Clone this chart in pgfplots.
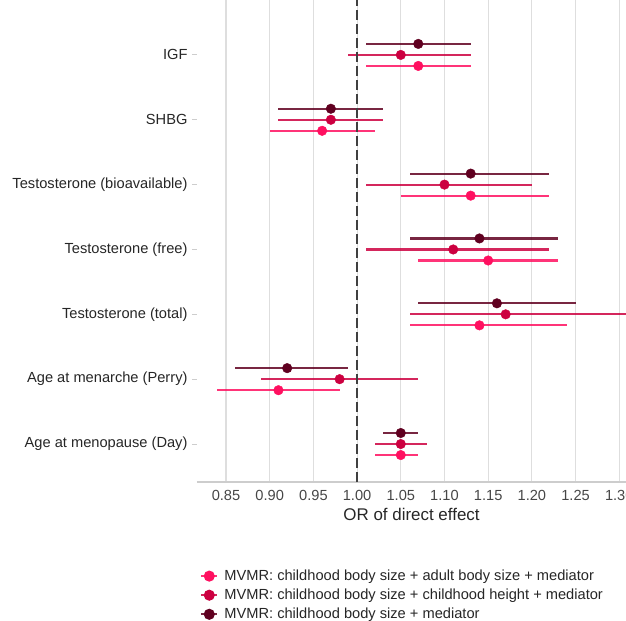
\documentclass[border=0pt]{standalone}
\usepackage{pgfplots}
\pgfplotsset{compat=1.18}
\usepackage{pgfplotstable}
\usepackage{fontspec}
\setmainfont{Liberation Sans}
\definecolor{cLight}{RGB}{255,16,96}
\definecolor{cMid}{RGB}{204,0,64}
\definecolor{cDark}{RGB}{96,0,32}
\definecolor{gridc}{RGB}{222,222,222}
\definecolor{axc}{RGB}{205,205,205}
\definecolor{txt}{RGB}{70,70,70}
\pgfplotstableread{
y or lo hi
6.83 1.07 1.01 1.13
5.83 0.96 0.90 1.02
4.83 1.13 1.05 1.22
3.83 1.15 1.07 1.23
2.83 1.14 1.06 1.24
1.83 0.91 0.84 0.98
0.83 1.05 1.02 1.07
}\light
\pgfplotstableread{
y or lo hi
7 1.05 0.99 1.13
6 0.97 0.91 1.03
5 1.10 1.01 1.20
4 1.11 1.01 1.22
3 1.17 1.06 1.35
2 0.98 0.89 1.07
1 1.05 1.02 1.08
}\mid
\pgfplotstableread{
y or lo hi
7.17 1.07 1.01 1.13
6.17 0.97 0.91 1.03
5.17 1.13 1.06 1.22
4.17 1.14 1.06 1.23
3.17 1.16 1.07 1.25
2.17 0.92 0.86 0.99
1.17 1.05 1.03 1.07
}\dark
\pgfplotsset{
  fp/.style={only marks, mark=*, mark size=4.8bp, color=#1, line width=2.2bp,
    mark options={line width=0.4bp},
    error bars/.cd, x dir=both, x explicit, error mark=none,
    error bar style={line width=2.2bp, #1, opacity=0.85},
    /pgfplots/legend image code/.code={\draw[#1, line width=2.2bp, opacity=0.85] (-1bp,0bp) -- (15bp,0bp); \fill[#1] (7bp,0bp) circle (4.4bp);}},
}
\begin{document}
\begin{tikzpicture}
\begin{axis}[
  name=ax,
  scale only axis,
  width=429bp, height=482bp,
  xmin=0.8168, xmax=1.3077,
  ymin=0.4145, ymax=7.847,
  axis x line*=bottom, axis y line*=left,
  x axis line style={-, draw=axc, line width=1.1bp},
  y axis line style={draw=none},
  xtick={0.85,0.90,0.95,1.00,1.05,1.10,1.15,1.20,1.25,1.30},
  xticklabels={0.85,0.90,0.95,1.00,1.05,1.10,1.15,1.20,1.25,1.30},
  ytick={1,2,3,4,5,6,7},
  yticklabels={Age at menopause (Day),Age at menarche (Perry),Testosterone (total),Testosterone (free),Testosterone (bioavailable),SHBG,IGF},
  x tick style={draw=none},
  y tick style={draw=axc, line width=1bp},
  tick align=outside,
  major tick length=5bp,
  xmajorgrids=true,
  grid style={draw=gridc, line width=1.1bp},
  tick label style={font=\fontsize{14.7}{17}\selectfont, text=txt},
  yticklabel style={text=black!85, xshift=-1bp},
  xlabel={OR of direct effect},
  xlabel style={font=\fontsize{17}{20}\selectfont, text=black!85},
  legend style={at={(0,-0.174)}, anchor=north west, draw=none, fill=none,
    font=\fontsize{14.7}{17}\selectfont, text=black!85, row sep=3bp,
    nodes={inner xsep=6bp}},
  legend cell align=left,
]
\addplot[fp=cLight]
  table[x=or, y=y, x error plus expr=\thisrow{hi}-\thisrow{or}, x error minus expr=\thisrow{or}-\thisrow{lo}] {\light};
\addlegendentry{MVMR: childhood body size + adult body size + mediator}
\addplot[fp=cMid]
  table[x=or, y=y, x error plus expr=\thisrow{hi}-\thisrow{or}, x error minus expr=\thisrow{or}-\thisrow{lo}] {\mid};
\addlegendentry{MVMR: childhood body size + childhood height + mediator}
\addplot[fp=cDark]
  table[x=or, y=y, x error plus expr=\thisrow{hi}-\thisrow{or}, x error minus expr=\thisrow{or}-\thisrow{lo}] {\dark};
\addlegendentry{MVMR: childhood body size + mediator}
\addplot[forget plot, draw=black!75, line width=1.8bp, dash pattern=on 10bp off 4bp] coordinates {(1,0.4145) (1,7.847)};
\end{axis}
\pgfresetboundingbox
\path[use as bounding box] ([xshift=-197bp,yshift=-139bp]ax.south west) rectangle (ax.north east);
\end{tikzpicture}
\end{document}
